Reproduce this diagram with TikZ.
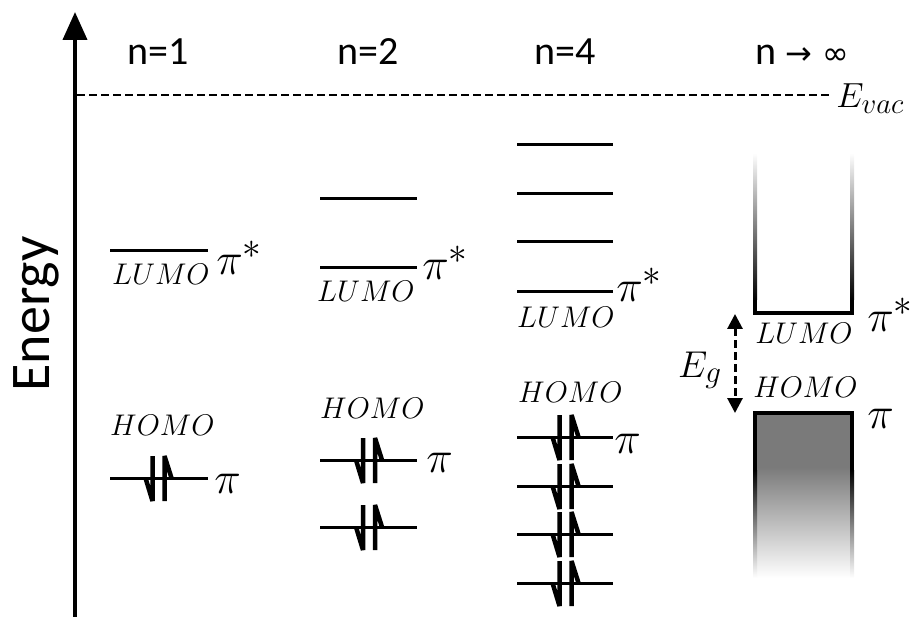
\documentclass[tikz,border=0pt]{standalone}
\usepackage[no-math]{fontspec}
\newfontfamily\calfont{Carlito}
\newfontfamily\symfont{DejaVu Sans}
\usepackage{tikz}
\usetikzlibrary{arrows.meta,positioning,calc}
\definecolor{bandgray}{HTML}{7A7A7A}
% one filled orbital: down and up half-arrows
\newcommand{\spinpair}[2]{%
  \draw[elec] (#1-6,#2-22) -- (#1-6,#2+23) -- (#1-13,#2);
  \draw[elec] (#1+6,#2+23) -- (#1+6,#2-22) -- (#1+13,#2);}
\tikzset{
  orb/.style={line width=3pt},
  elec/.style={line width=4.5pt,line join=bevel},
  lbl/.style={font=\Huge,scale=1.2,inner sep=0pt,anchor=base west},
  pilbl/.style={font=\Huge,scale=1.8,inner sep=0pt,anchor=base west},
  head/.style={font=\calfont\fontsize{40}{44}\selectfont,inner sep=0pt,anchor=base}
}

\begin{document}
\begin{tikzpicture}[x=1pt,y=-1pt]
\useasboundingbox (0,0) rectangle (915,617);
% energy axis and vacuum level
\coordinate (ybot) at (75,617);
\coordinate (ytop) at (75,12);
\draw[line width=4pt,-{Triangle[length=28pt,width=24pt]}] (ybot) -- (ytop);
\node[font=\calfont\fontsize{56}{60}\selectfont,rotate=90,anchor=base,inner sep=0pt] (energy) at (49,314) {Energy};
\coordinate (vacl) at (77,95);
\coordinate (vacr) at (830,95);
\draw[line width=2.5pt,dash pattern=on 8pt off 4pt] (vacl) -- (vacr);
\node[font=\Huge,scale=1.4,inner sep=0pt,anchor=base west] (evac) at (836,108) {$E_{vac}$};
% column heads
\node[head] (h1) at (158,65) {n=1};
\node[head] (h2) at (368,65) {n=2};
\node[head] (h4) at (565,65) {n=4};
\node[head] (hinf) at (802,65) {n {\symfont\fontsize{32}{36}\selectfont → ∞}};
% n=1
\draw[orb] (110,251) -- (208,251);
\draw[orb] (110,478) -- (208,478);
\spinpair{158.5}{478}
\node[lbl] (lumo1) at (112,285) {$LUMO$};
\node[pilbl] (pis1) at (216,275) {$\pi^{*}$};
\node[lbl] (homo1) at (110,435) {$HOMO$};
\node[pilbl] (pi1) at (214,493) {$\pi$};
% n=2
\foreach \y in {199,268}
  \draw[orb] (320,\y) -- (417,\y);
\foreach \y in {460,527}{
  \draw[orb] (320,\y) -- (417,\y);
  \spinpair{369}{\y}
}
\node[lbl] (lumo2) at (317,302) {$LUMO$};
\node[pilbl] (pis2) at (422,280) {$\pi^{*}$};
\node[lbl] (homo2) at (320,418) {$HOMO$};
\node[pilbl] (pi2) at (426,472) {$\pi$};
% n=4
\foreach \y in {145,194,242,292}
  \draw[orb] (517,\y) -- (613,\y);
\foreach \y in {437,486,534,583}{
  \draw[orb] (517,\y) -- (613,\y);
  \spinpair{565.5}{\y}
}
\node[lbl] (lumo4) at (517,328) {$LUMO$};
\node[pilbl] (pis4) at (616,302) {$\pi^{*}$};
\node[lbl] (homo4) at (518,402) {$HOMO$};
\node[pilbl] (pi4) at (614,453) {$\pi$};
% n -> infinity: conduction band (empty)
\shade[top color=white,bottom color=black] (753,153) rectangle (757,300);
\shade[top color=white,bottom color=black] (850,153) rectangle (854,300);
\fill (753,300) rectangle (757,315);
\fill (850,300) rectangle (854,315);
\draw[line width=4pt] (753,313) -- (854,313);
% valence band (filled)
\fill[bandgray] (755,413) rectangle (852,467);
\shade[top color=bandgray,bottom color=white] (755,467) rectangle (852,578);
\fill (753,411) rectangle (757,470);
\fill (850,411) rectangle (854,470);
\shade[top color=black,bottom color=white] (753,470) rectangle (757,578);
\shade[top color=black,bottom color=white] (850,470) rectangle (854,578);
\draw[line width=4pt] (753,413) -- (854,413);
\node[lbl] (lumoinf) at (755,343) {$LUMO$};
\node[pilbl] (pisinf) at (867,332) {$\pi^{*}$};
\node[lbl] (homoinf) at (753,397) {$HOMO$};
\node[pilbl] (piinf) at (867,428) {$\pi$};
% band gap
\coordinate (gtop) at (735,314);
\coordinate (gbot) at (735,413);
\draw[line width=3pt,dash pattern=on 8pt off 4pt,{Triangle[length=15pt,width=15pt]}-{Triangle[length=15pt,width=15pt]}] (gtop) -- (gbot);
\node[font=\Huge,scale=1.5,inner sep=0pt,anchor=base east] (eg) at (722,377) {$E_g$};
\end{tikzpicture}
\end{document}
